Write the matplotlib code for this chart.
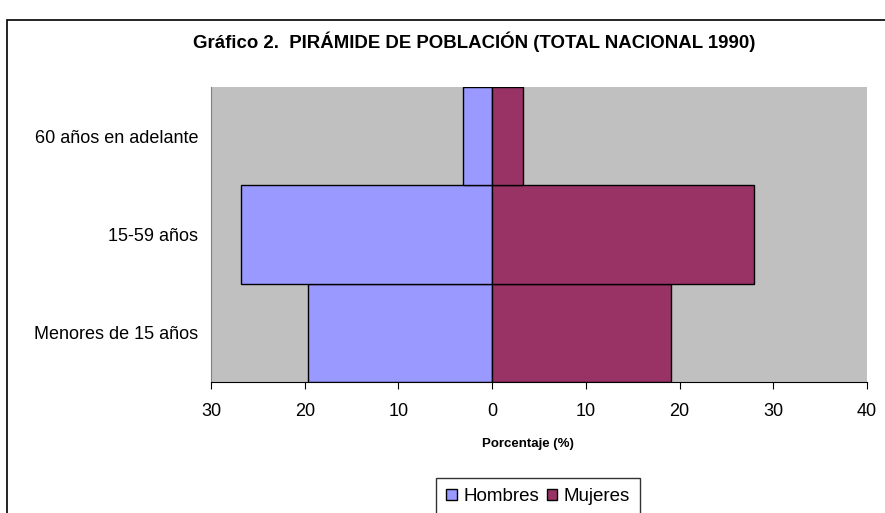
import numpy as np
import matplotlib.pyplot as plt
from matplotlib.patches import Rectangle

plt.rcParams['font.family'] = ['Liberation Sans', 'DejaVu Sans']

grupos = ["Menores de 15 años", "15-59 años", "60 años en adelante"]
hombres = [19.7, 26.8, 3.1]
mujeres = [19.1, 27.9, 3.3]
ticks = [-30, -20, -10, 0, 10, 20, 30, 40]

fig = plt.figure(figsize=(8.85, 5.13), dpi=100)
W, H = 885, 513

# marco del grafico
fig.patches.append(Rectangle((7/W, 0 - 0.05), 1.1, 1 - 20/H + 0.05, transform=fig.transFigure,
                             fill=False, edgecolor='black', lw=1.2))

ax = fig.add_axes([211/W, 1 - 382/H, (867-211)/W, (382-87)/H])
ax.set_facecolor('#C0C0C0')

y = np.arange(len(grupos))
ax.barh(y, -np.array(hombres), height=1.0, color='#9999FF', edgecolor='black', lw=1, label='Hombres')
ax.barh(y, mujeres, height=1.0, color='#993366', edgecolor='black', lw=1, label='Mujeres')

ax.set_xlim(-30, 40)
ax.set_ylim(-0.5, 2.5)
ax.set_xticks(ticks)
ax.set_xticklabels([str(abs(t)) for t in ticks], fontsize=13)
ax.set_yticks(y)
ax.set_yticklabels(grupos, fontsize=13)
ax.tick_params(axis='y', length=0, pad=9)
ax.tick_params(axis='x', length=5, direction='out', pad=10)

for s in ['top', 'right']:
    ax.spines[s].set_visible(False)
ax.spines['left'].set_color('#808080')
ax.spines['bottom'].set_color('black')

ax.set_xlabel("Porcentaje (%)", fontsize=9.5, fontweight='bold')
ax.xaxis.set_label_coords(0.483, -0.19)

fig.text(474/W, 1 - 42/H, "Gráfico 2.  PIRÁMIDE DE POBLACIÓN (TOTAL NACIONAL 1990)",
         ha='center', va='center', fontsize=13.4, fontweight='bold')

fig.legend(loc='upper center', bbox_to_anchor=(538/W, 1 - 478/H), ncol=2, fontsize=13.5,
           frameon=True, fancybox=False, edgecolor='black', handlelength=0.55, handleheight=0.55,
           handletextpad=0.35, columnspacing=0.4, borderpad=0.55, borderaxespad=0)

fig.savefig("out.png", dpi=100)
